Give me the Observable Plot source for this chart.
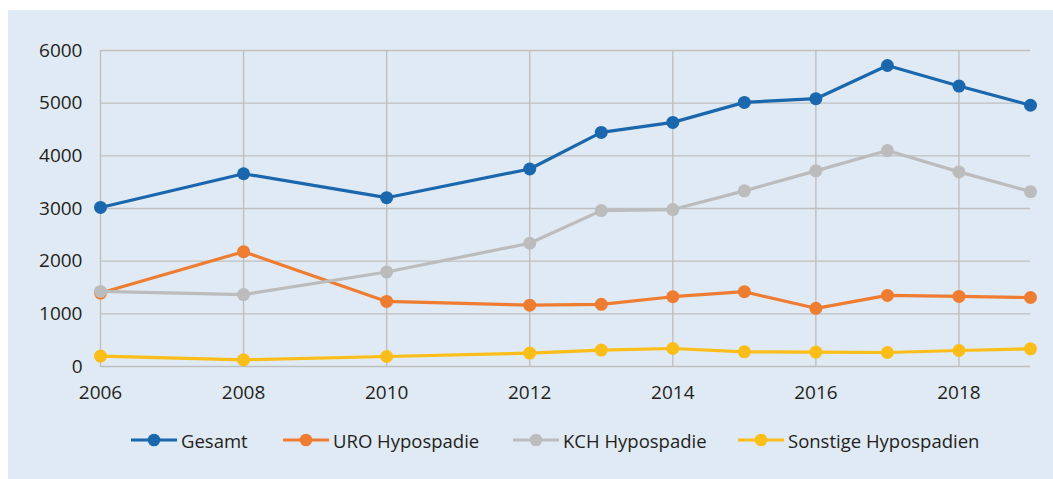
<!DOCTYPE html>
<html>
<head>
<meta charset="utf-8">
<script src="https://cdn.jsdelivr.net/npm/d3@7"></script>
<script src="https://cdn.jsdelivr.net/npm/@observablehq/plot@0.6"></script>
<style>
  html, body { margin: 0; padding: 0; background: #ffffff; width: 1053px; height: 479px; overflow: hidden; }
  #panel { position: absolute; left: 8px; top: 10px; right: 0; bottom: 0; background: #e0eaf4; }
  #chart { position: absolute; left: 0; top: 0; }
  .leg { position: absolute; top: 428px; height: 24px; display: flex; align-items: center;
         font-family: "Open Sans", sans-serif; font-size: 18.5px; color: #231f20; white-space: nowrap; }
  .leg svg { margin-right: 4px; }
</style>
</head>
<body>
<div id="panel"></div>
<div id="chart"></div>
<div id="legend"></div>
<script>
const years    = [2006, 2008, 2010, 2012, 2013, 2014, 2015, 2016, 2017, 2018, 2019];
const gesamt   = [3020, 3660, 3205, 3750, 4445, 4635, 5015, 5085, 5715, 5325, 4960];
const uro      = [1395, 2180, 1235, 1165, 1180, 1325, 1420, 1105, 1350, 1330, 1310];
const kch      = [1425, 1365, 1795, 2340, 2960, 2980, 3335, 3715, 4100, 3695, 3320];
const sonstige = [198, 127, 190, 255, 312, 342, 279, 273, 266, 304, 336];

const seriesNames  = ["Gesamt", "URO Hypospadie", "KCH Hypospadie", "Sonstige Hypospadien"];
const seriesColors = ["#1a67ad", "#ee7d31", "#bcbcbc", "#fbbe18"];
const xTicks = [2006, 2008, 2010, 2012, 2014, 2016, 2018];
const yTicks = [0, 1000, 2000, 3000, 4000, 5000, 6000];
const legendX = [131, 283, 513, 738];

const seriesValues = [gesamt, uro, kch, sonstige];
const rows = seriesNames.flatMap((name, si) =>
  years.map((year, i) => ({ series: name, year, value: seriesValues[si][i] })));

const gridColor = "#bfbfbf";
const xDomain = [years[0], years[years.length - 1]];

const marks = [
  Plot.ruleY(yTicks, { x1: xDomain[0], x2: xDomain[1], stroke: gridColor, strokeWidth: 1.4 }),
  Plot.ruleX(xTicks, { y1: 0, y2: 6000, stroke: gridColor, strokeWidth: 1.4 }),
  Plot.axisX({ ticks: xTicks, tickFormat: d => String(d), tickSize: 0, tickPadding: 19,
               fontSize: 19, fill: "#231f20" }),
  Plot.axisY({ ticks: yTicks, tickFormat: d => String(d), tickSize: 0, tickPadding: 18,
               fontSize: 19, fill: "#231f20" })
];
seriesNames.forEach((name, si) => {
  const data = rows.filter(r => r.series === name);
  marks.push(Plot.line(data, { x: "year", y: "value", stroke: seriesColors[si], strokeWidth: 3.2 }));
  marks.push(Plot.dot(data, { x: "year", y: "value", fill: seriesColors[si], r: 6.5 }));
});

const chart = Plot.plot({
  width: 1053,
  height: 410,
  marginLeft: 100,
  marginRight: 23,
  marginTop: 50,
  marginBottom: 44,
  style: { background: "transparent", fontFamily: "'Open Sans', sans-serif", color: "#231f20" },
  x: { domain: xDomain, label: null },
  y: { domain: [0, 6000], label: null },
  marks
});
document.getElementById("chart").appendChild(chart);

const legend = document.getElementById("legend");
seriesNames.forEach((name, si) => {
  const item = document.createElement("div");
  item.className = "leg";
  item.style.left = legendX[si] + "px";
  item.innerHTML =
    `<svg width="46" height="24"><line x1="0" x2="46" y1="12" y2="12" stroke="${seriesColors[si]}" stroke-width="3.2"/>` +
    `<circle cx="23" cy="12" r="6.3" fill="${seriesColors[si]}"/></svg><span>${name}</span>`;
  legend.appendChild(item);
});
</script>
</body>
</html>
